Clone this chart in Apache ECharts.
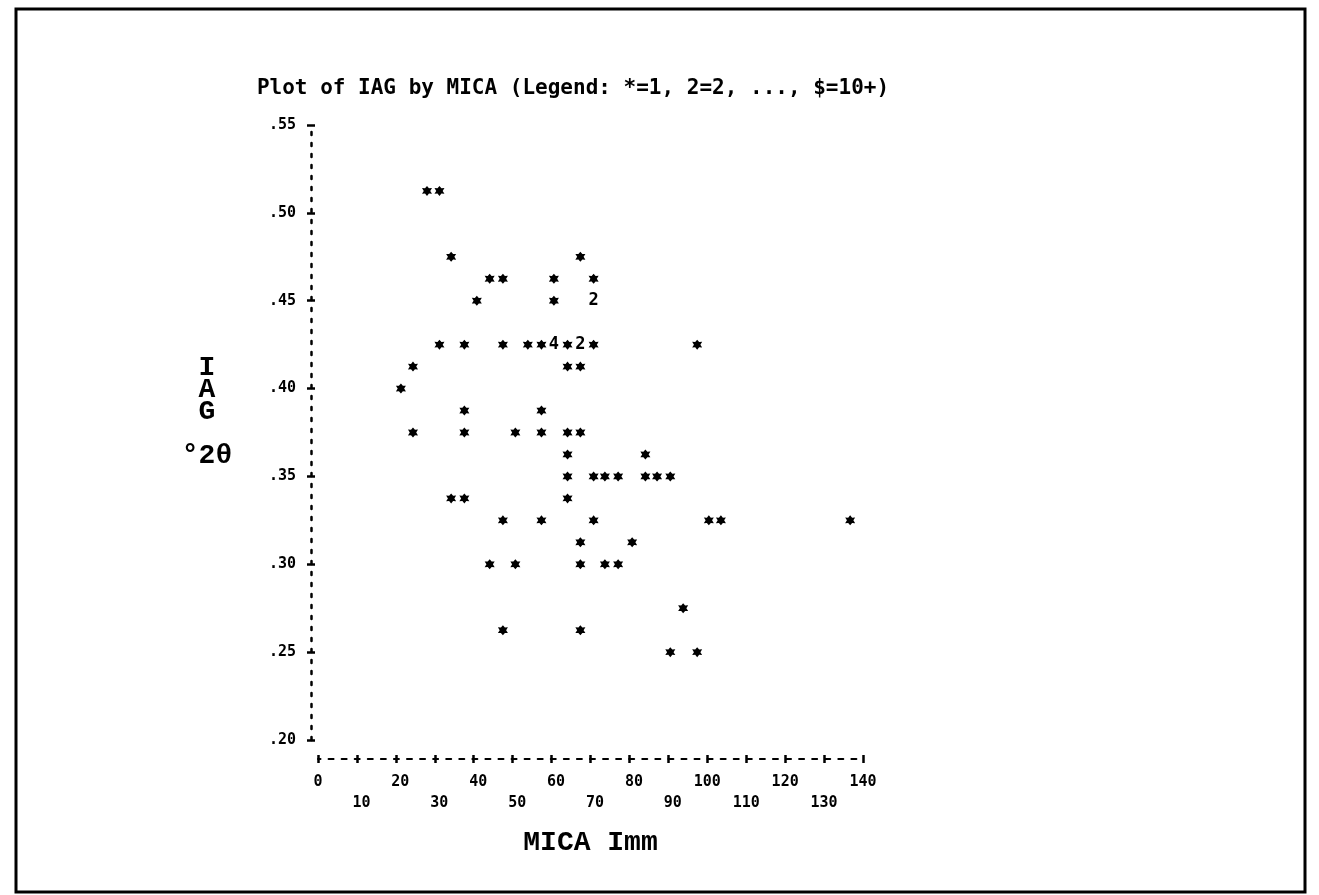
<!DOCTYPE html>
<html>
<head>
<meta charset="utf-8">
<title>Plot of IAG by MICA</title>
<script src="https://cdn.jsdelivr.net/npm/echarts@6/dist/echarts.min.js"></script>
<style>
html, body { margin: 0; padding: 0; background: #fff; }
#chart { width: 1319px; height: 895px; }
</style>
</head>
<body>
<div id="chart"></div>
<script>
// one entry per printed mark (top row first)
var micaValues = [
    28.0, 31.2,
    34.2, 67.4,
    44.1, 47.5, 60.6, 70.8,
    40.8, 60.6, 70.8,
    31.2, 37.6, 47.5, 53.9, 57.4, 60.6, 64.1, 67.4, 70.8, 97.4,
    24.4, 64.1, 67.4,
    21.3,
    37.6, 57.4,
    24.4, 37.6, 50.7, 57.4, 64.1, 67.4,
    64.1, 84.1,
    64.1, 70.8, 73.7, 77.1, 84.1, 87.1, 90.5,
    34.2, 37.6, 64.1,
    47.5, 57.4, 70.8, 100.4, 103.5, 136.7,
    67.4, 80.7,
    44.1, 50.7, 67.4, 73.7, 77.1,
    93.8,
    47.5, 67.4,
    90.5, 97.4
];
var iagValues = [
    0.5125, 0.5125,
    0.475, 0.475,
    0.4625, 0.4625, 0.4625, 0.4625,
    0.45, 0.45, 0.45,
    0.425, 0.425, 0.425, 0.425, 0.425, 0.425, 0.425, 0.425, 0.425, 0.425,
    0.4125, 0.4125, 0.4125,
    0.40,
    0.3875, 0.3875,
    0.375, 0.375, 0.375, 0.375, 0.375, 0.375,
    0.3625, 0.3625,
    0.35, 0.35, 0.35, 0.35, 0.35, 0.35, 0.35,
    0.3375, 0.3375, 0.3375,
    0.325, 0.325, 0.325, 0.325, 0.325, 0.325,
    0.3125, 0.3125,
    0.30, 0.30, 0.30, 0.30, 0.30,
    0.275,
    0.2625, 0.2625,
    0.25, 0.25
];
// how many observations each mark stands for (* = 1)
var markCounts = [
    1, 1,
    1, 1,
    1, 1, 1, 1,
    1, 1, 2,
    1, 1, 1, 1, 1, 4, 1, 2, 1, 1,
    1, 1, 1,
    1,
    1, 1,
    1, 1, 1, 1, 1, 1,
    1, 1,
    1, 1, 1, 1, 1, 1, 1,
    1, 1, 1,
    1, 1, 1, 1, 1, 1,
    1, 1,
    1, 1, 1, 1, 1,
    1,
    1, 1,
    1, 1
];
var micaTicks = [0, 10, 20, 30, 40, 50, 60, 70, 80, 90, 100, 110, 120, 130, 140];
var iagTicks = [0.20, 0.25, 0.30, 0.35, 0.40, 0.45, 0.50, 0.55];

var titleText = 'Plot of IAG by MICA (Legend: *=1, 2=2, ..., $=10+)';
var xName = 'MICA Imm';
var yName = 'I\nA\nG\n\n°2θ';

var printFont = 'DejaVu Sans Mono';
var typeFont = 'Liberation Mono';
// fat printer asterisk
var starPath = 'path://M0,-5L1.9,-2.7L4.8,-2.9L3.1,0L4.8,2.9L1.9,2.7L0,5L-1.9,2.7L-4.8,2.9L-3.1,0L-4.8,-2.9L-1.9,-2.7Z';

var singles = [], multis = [];
micaValues.forEach(function (x, i) {
    if (markCounts[i] > 1) {
        multis.push([x, iagValues[i], markCounts[i]]);
    } else {
        singles.push([x, iagValues[i]]);
    }
});

var xStep = micaTicks[1] - micaTicks[0];
var yStep = iagTicks[1] - iagTicks[0];

function xLabel(v) {
    var s = String(v);
    if (s.length == 2) s = ' ' + s;          // printer puts first digit on the tick
    return (Math.round(v / xStep) % 2) ? '\n' + s : s;
}

function yLabel(v) {
    return v.toFixed(2).replace(/^0/, '');
}

var chart = echarts.init(document.getElementById('chart'));

chart.setOption({
    animation: false,
    backgroundColor: '#fff',
    title: {
        text: titleText,
        left: 568,
        top: 73,
        textAlign: 'center',
        textStyle: { fontFamily: printFont, fontSize: 21, fontWeight: 'bold', color: '#000' }
    },
    grid: { left: 318, right: 456, top: 125, bottom: 155 },
    xAxis: [
        {
            type: 'value',
            position: 'bottom',
            offset: 19,
            min: micaTicks[0],
            max: micaTicks[micaTicks.length - 1],
            interval: xStep,
            splitLine: { show: false },
            axisLine: { onZero: false, lineStyle: { color: '#000', width: 2, type: [5, 8.07], dashOffset: 2.5 } },
            axisTick: { length: 4, lineStyle: { color: '#000', width: 2.5 } },
            axisLabel: {
                margin: 13,
                formatter: xLabel,
                color: '#000',
                fontFamily: printFont,
                fontSize: 15,
                fontWeight: 'bold',
                lineHeight: 21
            },
            name: xName,
            nameLocation: 'middle',
            nameGap: 70,
            nameTextStyle: { fontFamily: typeFont, fontSize: 28, fontWeight: 'bold', color: '#000' }
        },
        {
            type: 'value',
            position: 'bottom',
            offset: 19,
            min: micaTicks[0],
            max: micaTicks[micaTicks.length - 1],
            interval: xStep,
            splitLine: { show: false },
            axisLine: { show: false, onZero: false },
            axisTick: { inside: true, length: 4, lineStyle: { color: '#000', width: 2.5 } },
            axisLabel: { show: false }
        }
    ],
    yAxis: [
        {
            type: 'value',
            position: 'left',
            offset: 7,
            min: iagTicks[0],
            max: iagTicks[iagTicks.length - 1],
            interval: yStep,
            splitLine: { show: false },
            axisLine: { onZero: false, lineStyle: { color: '#000', width: 2.5, type: [3, 8] } },
            axisTick: { length: 4, lineStyle: { color: '#000', width: 2.5 } },
            axisLabel: {
                margin: 15,
                formatter: yLabel,
                color: '#000',
                fontFamily: printFont,
                fontSize: 15,
                fontWeight: 'bold'
            }
        },
        {
            type: 'value',
            position: 'left',
            offset: 7,
            min: iagTicks[0],
            max: iagTicks[iagTicks.length - 1],
            interval: yStep,
            splitLine: { show: false },
            axisLine: { show: false, onZero: false },
            axisTick: { inside: true, length: 4, lineStyle: { color: '#000', width: 2.5 } },
            axisLabel: { show: false }
        }
    ],
    graphic: [
        {
            type: 'rect',
            shape: { x: 16, y: 9, width: 1289, height: 883 },
            style: { fill: 'none', stroke: '#000', lineWidth: 3 }
        },
        {
            type: 'text',
            x: 207,
            y: 357,
            style: {
                text: yName,
                align: 'center',
                verticalAlign: 'top',
                lineHeight: 22,
                font: 'bold 28px "' + typeFont + '"',
                fill: '#000'
            }
        }
    ],
    series: [
        {
            name: 'single',
            type: 'scatter',
            xAxisIndex: 0,
            yAxisIndex: 0,
            symbol: starPath,
            symbolSize: 10,
            itemStyle: { color: '#000', opacity: 1 },
            data: singles
        },
        {
            name: 'multiple',
            type: 'scatter',
            xAxisIndex: 0,
            yAxisIndex: 0,
            symbol: 'circle',
            symbolSize: 1,
            itemStyle: { color: '#fff', opacity: 1 },
            label: {
                show: true,
                position: 'inside',
                formatter: function (p) { return String(p.value[2]); },
                color: '#000',
                opacity: 1,
                textBorderWidth: 0,
                fontFamily: printFont,
                fontSize: 17,
                fontWeight: 'bold'
            },
            data: multis
        }
    ]
});
</script>
</body>
</html>
